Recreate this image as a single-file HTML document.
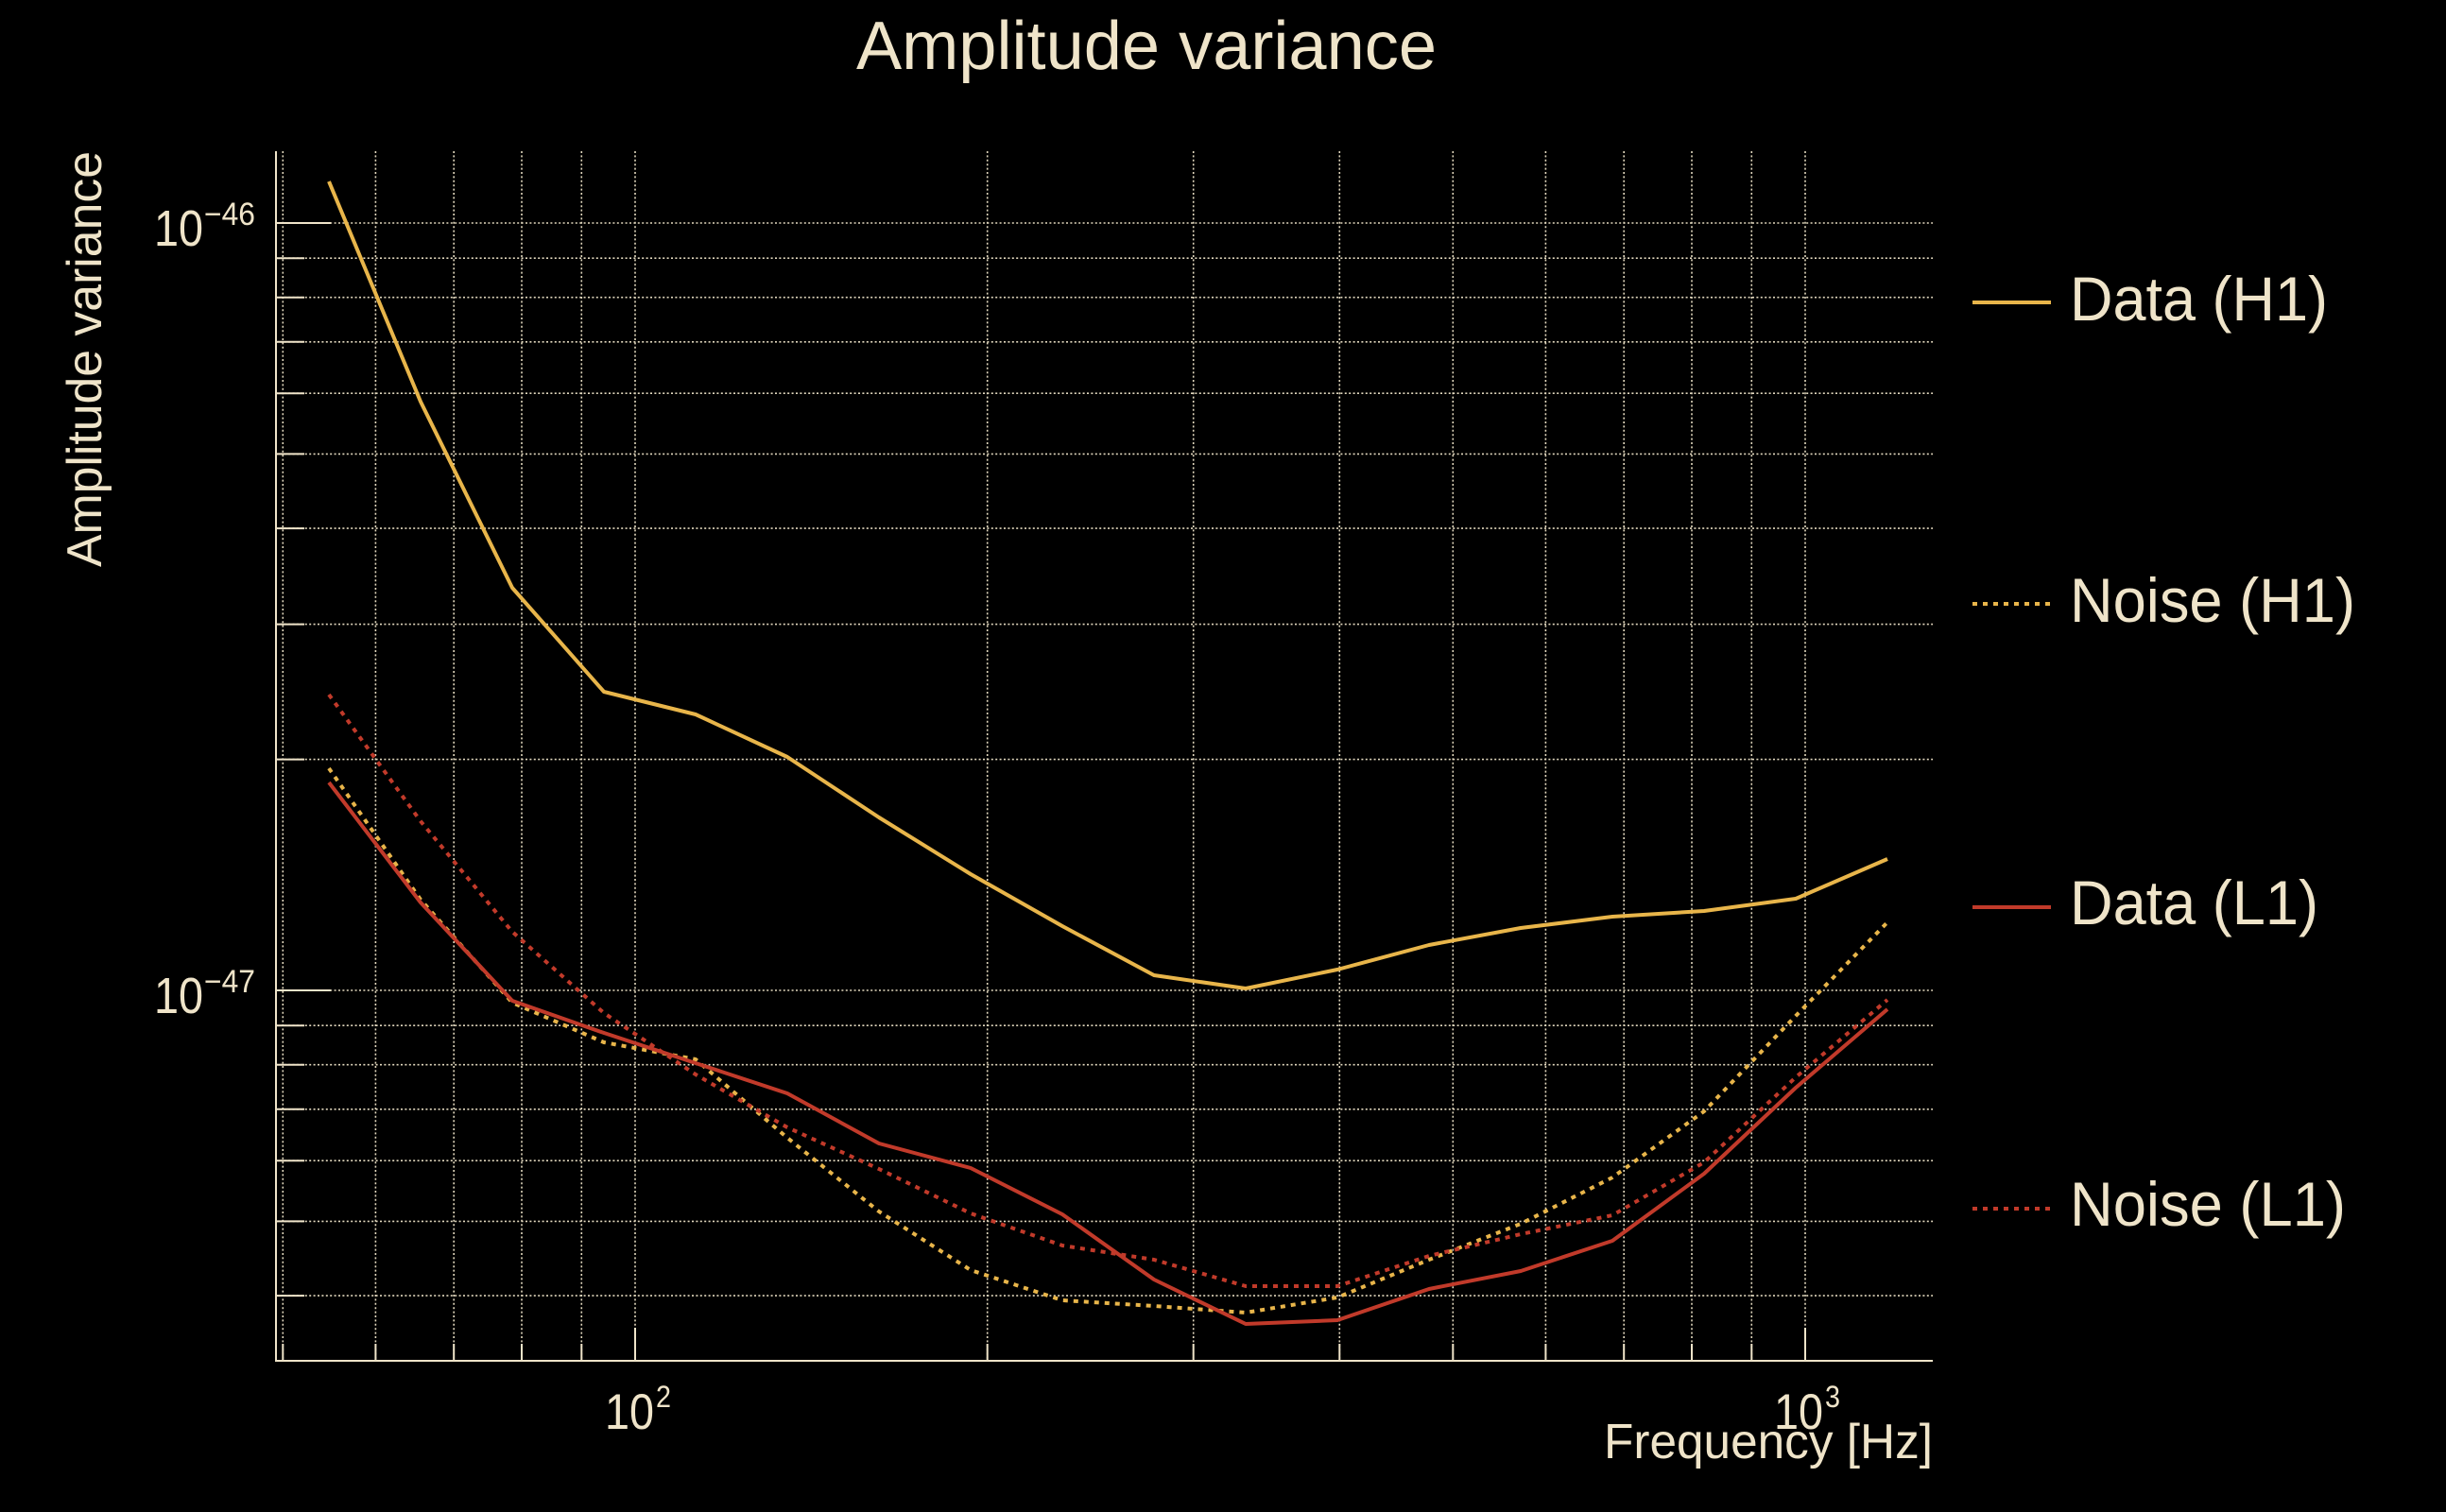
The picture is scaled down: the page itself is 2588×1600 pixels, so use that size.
<!DOCTYPE html>
<html>
<head>
<meta charset="utf-8">
<style>
  html, body { margin: 0; padding: 0; background: #000; }
  svg { display: block; }
  text { font-family: "Liberation Sans", "DejaVu Sans", sans-serif; fill: #efe4c9; }
</style>
</head>
<body>
<svg xmlns="http://www.w3.org/2000/svg" width="2588" height="1600" viewBox="0 0 2588 1600">
  <rect x="0" y="0" width="2588" height="1600" fill="#000"/>

  <!-- Title -->
  <text x="906" y="73" font-size="72" textLength="614" lengthAdjust="spacingAndGlyphs">Amplitude variance</text>

  <!-- Y axis label -->
  <text transform="translate(107,380) rotate(-90)" x="0" y="0" font-size="52" text-anchor="middle" textLength="440" lengthAdjust="spacingAndGlyphs">Amplitude variance</text>

  <!-- X axis label -->
  <text x="1697" y="1543" font-size="52" textLength="348" lengthAdjust="spacingAndGlyphs">Frequency [Hz]</text>

  <!-- Grid -->
  <g stroke="#efe4c9" stroke-width="1.6" stroke-dasharray="2 2.4" fill="none" opacity="0.95">
    <line x1="292" y1="236" x2="2045" y2="236"/>
    <line x1="292" y1="273.2" x2="2045" y2="273.2"/>
    <line x1="292" y1="314.7" x2="2045" y2="314.7"/>
    <line x1="292" y1="361.8" x2="2045" y2="361.8"/>
    <line x1="292" y1="416.2" x2="2045" y2="416.2"/>
    <line x1="292" y1="480.4" x2="2045" y2="480.4"/>
    <line x1="292" y1="559.1" x2="2045" y2="559.1"/>
    <line x1="292" y1="660.6" x2="2045" y2="660.6"/>
    <line x1="292" y1="803.6" x2="2045" y2="803.6"/>
    <line x1="292" y1="1048" x2="2045" y2="1048"/>
    <line x1="292" y1="1085.2" x2="2045" y2="1085.2"/>
    <line x1="292" y1="1126.7" x2="2045" y2="1126.7"/>
    <line x1="292" y1="1173.8" x2="2045" y2="1173.8"/>
    <line x1="292" y1="1228.2" x2="2045" y2="1228.2"/>
    <line x1="292" y1="1292.4" x2="2045" y2="1292.4"/>
    <line x1="292" y1="1371.1" x2="2045" y2="1371.1"/>
    <line x1="299.3" y1="160" x2="299.3" y2="1440"/>
    <line x1="397.4" y1="160" x2="397.4" y2="1440"/>
    <line x1="480.2" y1="160" x2="480.2" y2="1440"/>
    <line x1="552" y1="160" x2="552" y2="1440"/>
    <line x1="615.3" y1="160" x2="615.3" y2="1440"/>
    <line x1="672" y1="160" x2="672" y2="1440"/>
    <line x1="1044.7" y1="160" x2="1044.7" y2="1440"/>
    <line x1="1262.7" y1="160" x2="1262.7" y2="1440"/>
    <line x1="1417.3" y1="160" x2="1417.3" y2="1440"/>
    <line x1="1537.3" y1="160" x2="1537.3" y2="1440"/>
    <line x1="1635.4" y1="160" x2="1635.4" y2="1440"/>
    <line x1="1718.2" y1="160" x2="1718.2" y2="1440"/>
    <line x1="1790" y1="160" x2="1790" y2="1440"/>
    <line x1="1853.3" y1="160" x2="1853.3" y2="1440"/>
    <line x1="1910" y1="160" x2="1910" y2="1440"/>
  </g>

  <!-- Series -->
  <g fill="none" stroke-linejoin="round">
    <polyline stroke="#e8b54a" stroke-width="4"
      points="348,192 445,425 542,622 639,732 736,756 833,801 930,865 1027,925 1124,980 1221,1032 1318,1046 1415,1026 1512,1000 1609,982 1706,970 1803,964 1900,951 1997,909"/>
    <polyline stroke="#e8b54a" stroke-width="4" stroke-dasharray="5 6"
      points="348,813 445,952 542,1061 639,1103 736,1121 833,1204 930,1282 1027,1344 1124,1376 1221,1382 1318,1389 1415,1373 1512,1333 1609,1295 1706,1246 1803,1176 1900,1075 1997,976"/>
    <polyline stroke="#c13a2a" stroke-width="4"
      points="348,828 445,955 542,1059 639,1093 736,1125 833,1157 930,1210 1027,1236 1124,1285 1221,1354 1318,1401 1415,1397 1512,1364 1609,1345 1706,1313 1803,1242 1900,1151 1997,1068"/>
    <polyline stroke="#c13a2a" stroke-width="4" stroke-dasharray="5 6"
      points="348,735 445,869 542,986 639,1072 736,1137 833,1193 930,1237 1027,1284 1124,1318 1221,1333 1318,1361 1415,1361 1512,1329 1609,1306 1706,1286 1803,1230 1900,1140 1997,1058"/>
  </g>

  <!-- Axes -->
  <g stroke="#efe4c9" stroke-width="2" fill="none">
    <line x1="292" y1="160" x2="292" y2="1441"/>
    <line x1="291" y1="1440" x2="2045" y2="1440"/>
    <line x1="292" y1="236" x2="350" y2="236"/>
    <line x1="292" y1="1048" x2="350" y2="1048"/>
    <line x1="292" y1="273.2" x2="322" y2="273.2"/>
    <line x1="292" y1="314.7" x2="322" y2="314.7"/>
    <line x1="292" y1="361.8" x2="322" y2="361.8"/>
    <line x1="292" y1="416.2" x2="322" y2="416.2"/>
    <line x1="292" y1="480.4" x2="322" y2="480.4"/>
    <line x1="292" y1="559.1" x2="322" y2="559.1"/>
    <line x1="292" y1="660.6" x2="322" y2="660.6"/>
    <line x1="292" y1="803.6" x2="322" y2="803.6"/>
    <line x1="292" y1="1085.2" x2="322" y2="1085.2"/>
    <line x1="292" y1="1126.7" x2="322" y2="1126.7"/>
    <line x1="292" y1="1173.8" x2="322" y2="1173.8"/>
    <line x1="292" y1="1228.2" x2="322" y2="1228.2"/>
    <line x1="292" y1="1292.4" x2="322" y2="1292.4"/>
    <line x1="292" y1="1371.1" x2="322" y2="1371.1"/>
    <line x1="672" y1="1440" x2="672" y2="1405"/>
    <line x1="1910" y1="1440" x2="1910" y2="1405"/>
    <line x1="299.3" y1="1440" x2="299.3" y2="1422"/>
    <line x1="397.4" y1="1440" x2="397.4" y2="1422"/>
    <line x1="480.2" y1="1440" x2="480.2" y2="1422"/>
    <line x1="552" y1="1440" x2="552" y2="1422"/>
    <line x1="615.3" y1="1440" x2="615.3" y2="1422"/>
    <line x1="1044.7" y1="1440" x2="1044.7" y2="1422"/>
    <line x1="1262.7" y1="1440" x2="1262.7" y2="1422"/>
    <line x1="1417.3" y1="1440" x2="1417.3" y2="1422"/>
    <line x1="1537.3" y1="1440" x2="1537.3" y2="1422"/>
    <line x1="1635.4" y1="1440" x2="1635.4" y2="1422"/>
    <line x1="1718.2" y1="1440" x2="1718.2" y2="1422"/>
    <line x1="1790" y1="1440" x2="1790" y2="1422"/>
    <line x1="1853.3" y1="1440" x2="1853.3" y2="1422"/>
  </g>

  <!-- Y tick labels -->
  <text x="163" y="260" font-size="54" textLength="52" lengthAdjust="spacingAndGlyphs">10</text>
  <text x="216" y="238" font-size="34" textLength="54" lengthAdjust="spacingAndGlyphs">−46</text>
  <text x="163" y="1072" font-size="54" textLength="52" lengthAdjust="spacingAndGlyphs">10</text>
  <text x="216" y="1050" font-size="34" textLength="54" lengthAdjust="spacingAndGlyphs">−47</text>

  <!-- X tick labels -->
  <text x="640" y="1512" font-size="53" textLength="52" lengthAdjust="spacingAndGlyphs">10</text>
  <text x="694" y="1489" font-size="32" textLength="16" lengthAdjust="spacingAndGlyphs">2</text>
  <text x="1877" y="1512" font-size="53" textLength="52" lengthAdjust="spacingAndGlyphs">10</text>
  <text x="1931" y="1489" font-size="32" textLength="16" lengthAdjust="spacingAndGlyphs">3</text>

  <!-- Legend -->
  <g fill="none" stroke-width="4">
    <line x1="2087" y1="320" x2="2170" y2="320" stroke="#e8b54a"/>
    <line x1="2087" y1="639" x2="2170" y2="639" stroke="#e8b54a" stroke-dasharray="5 6"/>
    <line x1="2087" y1="960" x2="2170" y2="960" stroke="#c13a2a"/>
    <line x1="2087" y1="1279" x2="2170" y2="1279" stroke="#c13a2a" stroke-dasharray="5 6"/>
  </g>
  <text x="2190" y="339" font-size="66" textLength="273" lengthAdjust="spacingAndGlyphs">Data (H1)</text>
  <text x="2190" y="658" font-size="66" textLength="302" lengthAdjust="spacingAndGlyphs">Noise (H1)</text>
  <text x="2190" y="978" font-size="66" textLength="263" lengthAdjust="spacingAndGlyphs">Data (L1)</text>
  <text x="2190" y="1297" font-size="66" textLength="292" lengthAdjust="spacingAndGlyphs">Noise (L1)</text>
</svg>
</body>
</html>
